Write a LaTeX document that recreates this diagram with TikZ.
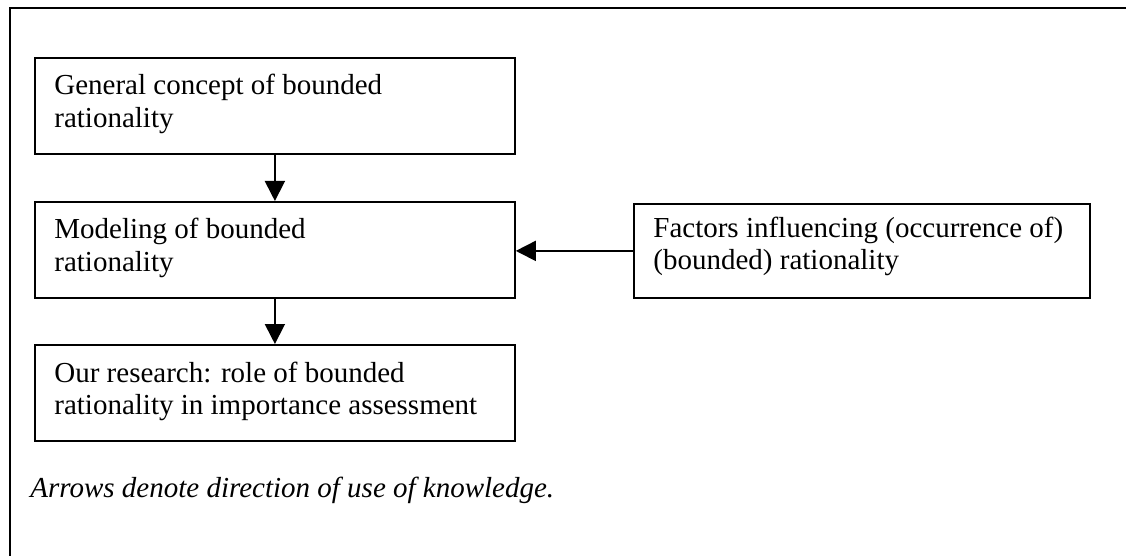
\documentclass[tikz,border=0pt]{standalone}
\usepackage{fontspec}
\setmainfont{Liberation Serif}
\usetikzlibrary{arrows.meta,calc}
\newcommand{\boxtext}[1]{\parbox[t]{230pt}{\raggedright #1}}
\begin{document}
\begin{tikzpicture}[x=0.5pt,y=-0.5pt,
  frame/.style={line width=1pt},
  box/.style={draw, line width=0.9pt, minimum width=240pt, minimum height=48pt, inner sep=0pt, anchor=north west},
  txt/.style={anchor=base west, inner sep=0pt, font=\fontsize{14.5}{16.5}\selectfont},
  arr/.style={-{Triangle[length=10pt,width=10pt]}, line width=0.9pt}]
\useasboundingbox (0,0) rectangle (1126,556);
% outer frame (top and left edges visible)
\coordinate (fa) at (10,556);
\coordinate (fb) at (10,8.5);
\coordinate (fc) at (1126,8.5);
\draw[frame] (fa) -- (fb) -- (fc);
% boxes
\node[box] (b1) at (34,57) {};
\node[box] (b2) at (34,201) {};
\node[box] (b3) at (34,344) {};
\node[box, minimum width=228pt, minimum height=47pt] (b4) at (633,203) {};
% texts
\node[txt] (t1) at ($(b1.north west)+(20,38)$) {\boxtext{General concept of bounded\\rationality}};
\node[txt] (t2) at ($(b2.north west)+(20,38)$) {\boxtext{Modeling of bounded\\rationality}};
\node[txt] (t3) at ($(b3.north west)+(20,38)$) {\boxtext{Our research: role of bounded\\rationality in importance assessment}};
\node[txt] (t4) at ($(b4.north west)+(20,34)$) {\boxtext{Factors influencing (occurrence of)\\(bounded) rationality}};
\node[txt, font=\fontsize{14.5}{16.5}\selectfont\itshape] (cap) at (30,497) {Arrows denote direction of use of knowledge.};
% connectors
\draw[arr] (b1.south) -- (b2.north);
\draw[arr] (b2.south) -- (b3.north);
\draw[arr] (b4.west) -- (b4.west -| b2.east);
\end{tikzpicture}
\end{document}
